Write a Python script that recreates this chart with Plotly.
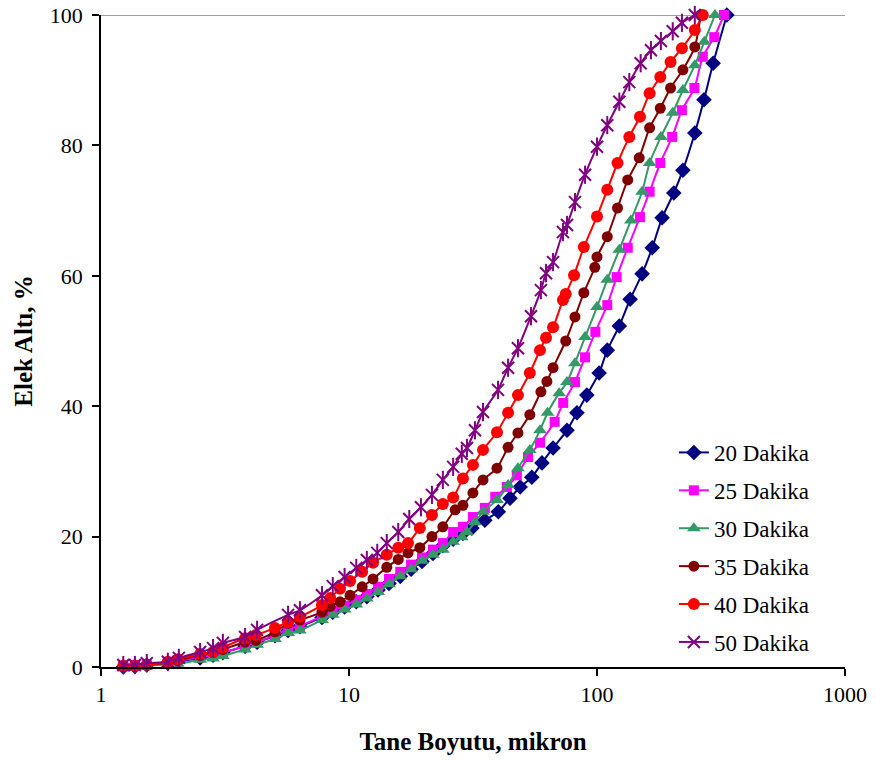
import plotly.graph_objects as go

# ---- data ----
series_names = ["20 Dakika", "25 Dakika", "30 Dakika", "35 Dakika", "40 Dakika", "50 Dakika"]

x20 = [1.23, 1.37, 1.53, 1.86, 2.04, 2.51, 2.83, 3.10, 3.81, 4.26, 5.03, 5.68, 6.34, 7.78, 8.6, 9.6, 10.7, 11.8,
       13.1, 14.5, 16.1, 17.8, 19.7, 21.8, 23.9, 26.3, 28.8, 31.3, 35.3, 40.0, 44.6, 49.0, 54.6, 60.0, 66.5, 75.7,
       83.0, 91.0, 102, 110, 123, 136, 152, 167, 183, 204, 222, 248, 270, 294, 334]
y20 = [0, 0.1, 0.3, 0.6, 0.8, 1.4, 1.8, 2.2, 3.2, 3.8, 4.8, 5.6, 6.2, 7.6, 8.4, 9.2, 10.0, 10.8,
       11.8, 12.8, 13.9, 15.0, 16.2, 17.4, 18.6, 19.6, 20.5, 21.3, 22.5, 23.8, 25.9, 27.6, 29.1, 31.3, 33.6, 36.3,
       39.0, 41.7, 45.1, 48.6, 52.3, 56.4, 60.3, 64.3, 68.9, 72.7, 76.2, 81.9, 87.0, 92.6, 100]

x25 = [1.23, 1.37, 1.53, 1.86, 2.04, 2.51, 2.83, 3.10, 3.81, 4.26, 5.03, 5.68, 6.34, 7.78, 8.6, 9.6, 10.7, 11.8,
       13.1, 14.5, 16.1, 17.8, 19.7, 21.8, 23.9, 26.3, 28.8, 31.6, 35.3, 38.9, 43.3, 47.5, 52.7, 58.9, 67.5, 73.1,
       81.5, 89.5, 98.5, 110, 120, 133, 149, 163, 180, 201, 220, 247, 267, 297, 325]
y25 = [0.1, 0.2, 0.3, 0.6, 0.9, 1.5, 1.8, 2.2, 3.2, 3.8, 4.9, 5.8, 6.3, 7.8, 8.6, 9.4, 10.3, 11.2,
       12.3, 13.5, 14.6, 15.7, 16.8, 18.0, 19.0, 20.7, 21.5, 23.0, 24.4, 26.1, 27.6, 29.4, 32.2, 34.4, 37.6, 40.5,
       43.7, 47.5, 51.4, 55.5, 59.8, 64.3, 69.0, 72.9, 77.3, 81.3, 85.4, 88.8, 93.6, 96.6, 100]

x30 = [1.23, 1.37, 1.53, 1.86, 2.04, 2.51, 2.83, 3.10, 3.81, 4.26, 5.03, 5.68, 6.34, 7.78, 8.6, 9.6, 10.7, 11.8,
       13.1, 14.5, 16.1, 17.8, 19.7, 21.8, 23.9, 26.3, 28.5, 29.9, 32.2, 34.7, 39.5, 43.8, 48.0, 53.6, 58.9, 63.2,
       70.4, 75.7, 81.5, 89.5, 100, 110, 123, 137, 152, 163, 181, 202, 222, 248, 271, 299]
y30 = [0, 0.1, 0.2, 0.4, 0.5, 1.1, 1.3, 1.7, 2.7, 3.4, 4.3, 5.2, 5.6, 7.2, 8.0, 8.8, 9.6, 10.5,
       11.5, 12.7, 13.9, 15.0, 16.3, 17.2, 18.0, 19.2, 19.9, 20.7, 22.2, 23.8, 25.6, 27.9, 30.5, 33.3, 36.3, 39.0,
       42.0, 43.7, 46.6, 50.6, 55.2, 59.4, 64.0, 68.5, 72.9, 77.3, 81.3, 85.0, 88.5, 92.3, 95.9, 100]

x35 = [1.23, 1.37, 1.53, 1.86, 2.04, 2.51, 2.83, 3.10, 3.81, 4.21, 5.03, 5.68, 6.34, 7.78, 8.4, 9.2, 10.1, 11.3,
       12.5, 14.2, 15.8, 17.3, 19.3, 21.6, 23.9, 26.8, 28.8, 31.6, 34.7, 39.5, 43.8, 48.0, 53.6, 59.4, 62.8, 66.5,
       74.8, 81.5, 88.5, 98, 100, 110, 121, 133, 148, 163, 180, 198, 222, 248, 262]
y35 = [0.1, 0.2, 0.3, 0.7, 1.0, 1.8, 2.2, 2.7, 3.8, 4.1, 5.4, 6.7, 7.2, 8.4, 9.3, 10.0, 11.0, 12.3,
       13.5, 15.3, 16.5, 17.5, 18.3, 20.0, 21.5, 24.1, 24.8, 26.7, 28.7, 30.5, 33.7, 35.9, 38.7, 42.2, 43.8, 45.9,
       50.0, 53.7, 57.4, 61.3, 62.9, 66.0, 70.4, 74.7, 78.1, 82.7, 85.7, 88.8, 91.6, 95.1, 100]

x40 = [1.23, 1.37, 1.53, 1.86, 2.04, 2.51, 2.83, 3.10, 3.81, 4.21, 5.03, 5.68, 6.34, 7.78, 8.4, 9.2, 10.1, 11.3,
       12.5, 14.2, 15.8, 17.3, 19.3, 21.6, 23.9, 26.3, 28.8, 31.6, 34.7, 39.5, 43.8, 48.0, 53.6, 58.9, 62.3, 66.5,
       72.9, 74.8, 80.8, 88.5, 100, 110, 121, 135, 149, 163, 180, 198, 220, 248, 267]
y40 = [0.2, 0.2, 0.3, 0.8, 1.2, 2.0, 2.3, 3.0, 4.4, 4.9, 6.0, 6.9, 7.7, 9.5, 10.6, 12.0, 13.2, 14.6,
       16.0, 17.2, 18.3, 19.0, 21.3, 23.3, 25.0, 26.0, 28.9, 31.0, 33.3, 36.0, 39.0, 41.7, 45.1, 48.6, 50.5, 52.1,
       56.3, 57.2, 60.1, 64.4, 69.1, 73.2, 77.3, 81.3, 84.4, 88.0, 90.5, 92.8, 94.9, 97.7, 100]

x50 = [1.23, 1.37, 1.53, 1.86, 2.06, 2.51, 2.83, 3.10, 3.81, 4.26, 5.68, 6.34, 7.78, 8.6, 9.6, 10.7, 11.8, 13.0,
       14.2, 15.8, 17.5, 19.5, 21.6, 23.9, 26.3, 28.5, 29.9, 32.2, 34.7, 39.9, 43.8, 48.0, 54.2, 59.4, 62.3, 66.5,
       72.9, 75.7, 81.5, 89.5, 100, 110, 123, 135, 150, 165, 181, 202, 220, 248]
y50 = [0.3, 0.3, 0.6, 0.8, 1.4, 2.3, 2.9, 3.7, 4.6, 5.7, 8.0, 8.7, 11.0, 12.4, 13.8, 15.2, 16.4, 17.5,
       19.0, 20.7, 22.7, 24.5, 26.4, 28.7, 30.7, 32.7, 33.6, 36.3, 39.1, 42.5, 45.9, 48.9, 53.8, 57.8, 60.4, 62.1,
       66.7, 67.8, 71.3, 75.5, 79.8, 83.1, 86.7, 89.7, 92.6, 94.6, 96.0, 97.5, 98.8, 100]

x_tick_vals = [1, 10, 100, 1000]
x_tick_text = ["1", "10", "100", "1000"]
y_tick_vals = [0, 20, 40, 60, 80, 100]

x_title = "Tane Boyutu, mikron"
y_title = "Elek Altı, %"

# ---- styles ----
xs = [x20, x25, x30, x35, x40, x50]
ys = [y20, y25, y30, y35, y40, y50]
colors = ["#000080", "#FF00FF", "#339966", "#800000", "#FF0000", "#800080"]
symbols = ["diamond", "square", "triangle-up", "circle", "circle", "x-thin-open"]
sizes = [12, 10, 12, 11, 12, 12]

FONT = "Liberation Serif, Times New Roman, serif"

fig = go.Figure()
for i in range(6):
    if symbols[i] == "x-thin-open":
        marker = dict(symbol="x-thin-open", size=sizes[i], color=colors[i], line=dict(width=2, color=colors[i]))
    else:
        marker = dict(symbol=symbols[i], size=sizes[i], color=colors[i], line=dict(width=0))
    fig.add_trace(go.Scatter(
        x=xs[i], y=ys[i], name=series_names[i], mode="lines+markers",
        line=dict(color=colors[i], width=2, shape="spline", smoothing=0.6),
        marker=marker, legendgroup=series_names[i], cliponaxis=False,
    ))
    if symbols[i] == "x-thin-open":
        # vertical stroke to complete the six-armed star
        fig.add_trace(go.Scatter(
            x=xs[i], y=ys[i], mode="markers", showlegend=False, legendgroup=series_names[i],
            marker=dict(symbol="line-ns-open", size=13, color=colors[i], line=dict(width=2, color=colors[i])),
            hoverinfo="skip", cliponaxis=False,
        ))

fig.add_shape(type="line", xref="paper", yref="y", x0=0, x1=1, y0=100, y1=100,
              line=dict(color="#808080", width=1.5), layer="below")

fig.update_layout(
    width=876, height=760,
    margin=dict(l=101, r=31, t=15, b=93, autoexpand=False),
    paper_bgcolor="white", plot_bgcolor="white",
    font=dict(family=FONT, size=22, color="black"),
    showlegend=True,
    legend=dict(x=0.77, y=0.362, xanchor="left", yanchor="top",
                bgcolor="rgba(0,0,0,0)", borderwidth=0,
                font=dict(family=FONT, size=23, color="black"),
                tracegroupgap=5),
    xaxis=dict(type="log", range=[0, 3], tickvals=x_tick_vals, ticktext=x_tick_text,
               showgrid=False, zeroline=False, showline=True, linecolor="black", linewidth=1.5,
               ticks="outside", ticklen=7, tickwidth=1.5, tickcolor="black", automargin=False,
               tickfont=dict(family=FONT, size=22),
               title=dict(text="<b>" + x_title + "</b>", font=dict(family=FONT, size=25), standoff=26)),
    yaxis=dict(range=[0, 100], tickvals=y_tick_vals,
               showgrid=False, zeroline=False, showline=True, linecolor="black", linewidth=1.5,
               ticks="outside", ticklen=7, tickwidth=1.5, tickcolor="black", automargin=False,
               ticklabelstandoff=5,
               tickfont=dict(family=FONT, size=22),
               title=dict(text="<b>" + y_title + "</b>", font=dict(family=FONT, size=25), standoff=10)),
)

fig.write_html("out.html", post_script="document.body.style.margin='0';",
               config={"displayModeBar": False})
